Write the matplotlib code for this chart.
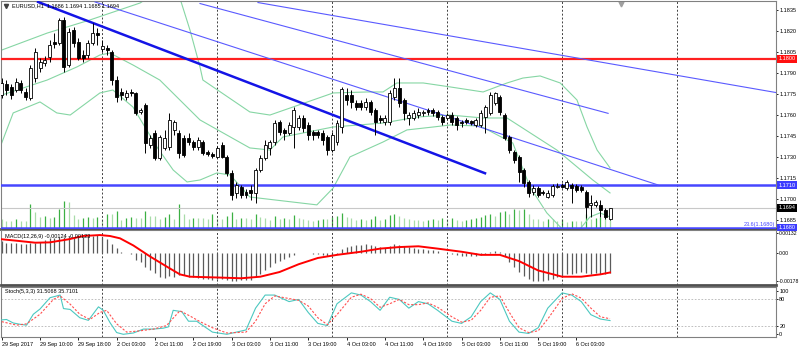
import matplotlib
matplotlib.use("Agg")
import matplotlib.pyplot as plt
import numpy as np

plt.rcParams['font.family'] = ['Liberation Sans', 'DejaVu Sans']

# EURUSD H1, bars from 29 Sep 2017 02:00 to 6 Oct 2017 10:00
opens = [1.17742, 1.17821, 1.17800, 1.17778, 1.17828, 1.17764, 1.17721, 1.17863, 1.17935, 1.17970,
         1.18013, 1.18119, 1.18112, 1.18276, 1.17956, 1.18205, 1.18119, 1.18027, 1.18027, 1.18112,
         1.18183, 1.18070, 1.18077, 1.18048, 1.17849, 1.17764, 1.17728, 1.17764, 1.17757, 1.17622,
         1.17671, 1.17387, 1.17472, 1.17295, 1.17366, 1.17373, 1.17494, 1.17472, 1.17436, 1.17436,
         1.17408, 1.17373, 1.17408, 1.17337, 1.17323, 1.17302, 1.17387, 1.17302, 1.17188, 1.17046,
         1.17088, 1.17053, 1.17067, 1.17046, 1.17209, 1.17295, 1.17366, 1.17408, 1.17551, 1.17494,
         1.17472, 1.17515, 1.17515, 1.17579, 1.17529, 1.17479, 1.17479, 1.17472, 1.17444, 1.17351,
         1.17408, 1.17515, 1.17742, 1.17742, 1.17686, 1.17686, 1.17657, 1.17693, 1.17636, 1.17579,
         1.17551, 1.17551, 1.17728, 1.17792, 1.17707, 1.17579, 1.17579, 1.17600, 1.17615, 1.17636,
         1.17636, 1.17622, 1.17586, 1.17579, 1.17600, 1.17579, 1.17551, 1.17565, 1.17558, 1.17529,
         1.17529, 1.17586, 1.17615, 1.17686, 1.17728, 1.17600, 1.17444, 1.17337, 1.17302, 1.17209,
         1.17124, 1.17053, 1.17081, 1.17053, 1.17017, 1.17032, 1.17088, 1.17103, 1.17081, 1.17103,
         1.17096, 1.17088, 1.17053, 1.16961, 1.16961, 1.16961, 1.16925, 1.16860]
highs = [1.17863, 1.17849, 1.17821, 1.17863, 1.17849, 1.17792, 1.17956, 1.18077, 1.18006, 1.18020,
         1.18134, 1.18183, 1.18290, 1.18297, 1.18219, 1.18226, 1.18148, 1.18062, 1.18134, 1.18254,
         1.18219, 1.18134, 1.18098, 1.18062, 1.17878, 1.17792, 1.17778, 1.17785, 1.17764, 1.17650,
         1.17686, 1.17458, 1.17494, 1.17458, 1.17494, 1.17615, 1.17565, 1.17494, 1.17458, 1.17472,
         1.17422, 1.17444, 1.17422, 1.17351, 1.17337, 1.17380, 1.17408, 1.17316, 1.17209, 1.17124,
         1.17103, 1.17074, 1.17103, 1.17224, 1.17316, 1.17422, 1.17422, 1.17565, 1.17565, 1.17508,
         1.17551, 1.17657, 1.17600, 1.17600, 1.17551, 1.17494, 1.17494, 1.17494, 1.17458, 1.17479,
         1.17565, 1.17800, 1.17792, 1.17778, 1.17707, 1.17707, 1.17721, 1.17707, 1.17650, 1.17600,
         1.17600, 1.17778, 1.17863, 1.17863, 1.17721, 1.17622, 1.17636, 1.17650, 1.17636, 1.17650,
         1.17650, 1.17636, 1.17600, 1.17615, 1.17622, 1.17593, 1.17565, 1.17579, 1.17565, 1.17579,
         1.17636, 1.17671, 1.17764, 1.17764, 1.17742, 1.17615, 1.17458, 1.17351, 1.17316, 1.17224,
         1.17138, 1.17103, 1.17096, 1.17067, 1.17067, 1.17110, 1.17117, 1.17117, 1.17138, 1.17117,
         1.17110, 1.17103, 1.17067, 1.17032, 1.16996, 1.16996, 1.16939, 1.16940]
lows = [1.17721, 1.17742, 1.17714, 1.17764, 1.17757, 1.17707, 1.17707, 1.17835, 1.17906, 1.17949,
        1.17977, 1.18077, 1.18098, 1.17906, 1.17942, 1.18084, 1.17991, 1.17977, 1.18006, 1.18098,
        1.18098, 1.18048, 1.18027, 1.17814, 1.17693, 1.17707, 1.17707, 1.17735, 1.17600, 1.17607,
        1.17330, 1.17366, 1.17281, 1.17281, 1.17351, 1.17351, 1.17458, 1.17295, 1.17302, 1.17387,
        1.17351, 1.17351, 1.17316, 1.17309, 1.17295, 1.17295, 1.17295, 1.17167, 1.16996, 1.17010,
        1.17010, 1.17010, 1.16996, 1.16975, 1.17195, 1.17281, 1.17316, 1.17387, 1.17458, 1.17422,
        1.17458, 1.17366, 1.17494, 1.17479, 1.17422, 1.17422, 1.17436, 1.17387, 1.17316, 1.17337,
        1.17387, 1.17472, 1.17671, 1.17650, 1.17636, 1.17636, 1.17636, 1.17600, 1.17458, 1.17543,
        1.17529, 1.17529, 1.17707, 1.17657, 1.17565, 1.17529, 1.17565, 1.17579, 1.17593, 1.17600,
        1.17593, 1.17565, 1.17529, 1.17565, 1.17529, 1.17494, 1.17515, 1.17536, 1.17529, 1.17515,
        1.17515, 1.17472, 1.17600, 1.17671, 1.17600, 1.17422, 1.17330, 1.17259, 1.17124, 1.17088,
        1.17017, 1.17032, 1.17017, 1.17032, 1.17010, 1.17017, 1.17081, 1.17081, 1.17067, 1.16975,
        1.17053, 1.17053, 1.16868, 1.16875, 1.16946, 1.16875, 1.16861, 1.16850]
closes = [1.17828, 1.17778, 1.17742, 1.17835, 1.17778, 1.17728, 1.17935, 1.18048, 1.17977, 1.17991,
          1.18098, 1.18105, 1.18276, 1.17942, 1.18190, 1.18112, 1.18006, 1.18006, 1.18112, 1.18183,
          1.18169, 1.18091, 1.18062, 1.17849, 1.17728, 1.17742, 1.17757, 1.17757, 1.17615, 1.17636,
          1.17401, 1.17436, 1.17295, 1.17444, 1.17436, 1.17565, 1.17551, 1.17330, 1.17316, 1.17408,
          1.17373, 1.17422, 1.17330, 1.17323, 1.17309, 1.17366, 1.17302, 1.17188, 1.17032, 1.17103,
          1.17032, 1.17032, 1.17046, 1.17209, 1.17295, 1.17387, 1.17408, 1.17543, 1.17479, 1.17472,
          1.17529, 1.17636, 1.17579, 1.17508, 1.17458, 1.17458, 1.17458, 1.17422, 1.17351, 1.17458,
          1.17543, 1.17785, 1.17707, 1.17693, 1.17657, 1.17657, 1.17693, 1.17622, 1.17551, 1.17565,
          1.17579, 1.17757, 1.17792, 1.17686, 1.17615, 1.17600, 1.17615, 1.17622, 1.17622, 1.17622,
          1.17615, 1.17586, 1.17551, 1.17600, 1.17551, 1.17529, 1.17543, 1.17551, 1.17543, 1.17565,
          1.17615, 1.17657, 1.17742, 1.17757, 1.17622, 1.17436, 1.17351, 1.17281, 1.17195, 1.17117,
          1.17046, 1.17081, 1.17032, 1.17046, 1.17046, 1.17096, 1.17096, 1.17088, 1.17124, 1.17081,
          1.17067, 1.17067, 1.16946, 1.16975, 1.16982, 1.16925, 1.16875, 1.16940]
volumes = [1000, 800, 800, 1000, 800, 800, 2500, 1700, 1200, 1300,
           1100, 1200, 2000, 2800, 2700, 1400, 1000, 1100, 1200, 1100,
           1200, 1000, 1500, 1500, 1800, 900, 1100, 1200, 1100, 1100,
           1800, 1300, 1300, 1000, 1200, 1500, 1000, 2500, 1500, 1000,
           1100, 1100, 1100, 1000, 1500, 1100, 1000, 1300, 1700, 1000,
           1100, 1100, 1000, 1500, 1200, 1100, 900, 1300, 1000, 1100,
           1000, 1400, 1100, 1000, 900, 800, 900, 1000, 1000, 1200,
           1300, 1600, 1200, 1100, 900, 1000, 900, 1000, 1300, 900,
           1000, 1400, 1500, 1300, 1100, 1000, 900, 900, 800, 900,
           1000, 900, 1100, 1000, 1100, 900, 800, 900, 1000, 1100,
           1200, 1400, 1500, 1300, 1700, 1800, 1500, 2000, 1900, 2000,
           1500, 1000, 1000, 800, 1000, 1000, 800, 1000, 700, 800,
           800, 800, 1500, 1000, 1100, 1200, 1200, 1000]

# Bollinger bands, read at sample bars
bb_up_x = [0, 9.5, 18.4, 28.9, 33, 37.2, 39.3, 41.4, 42, 51.8, 56, 60.8, 69.2, 76.3, 79.6, 82.5,
           88, 93.6, 100.5, 105.5, 108.8, 112.4, 116.6, 120.1, 122.2, 124.3, 127]
bb_up = [1.18062, 1.18183, 1.18276, 1.18397, 1.18489, 1.18432, 1.18205, 1.17942, 1.17849, 1.17622,
         1.17600, 1.17657, 1.17757, 1.17764, 1.17764, 1.17828, 1.17828, 1.17800, 1.17764, 1.17828,
         1.17863, 1.17878, 1.17828, 1.17707, 1.17515, 1.17351, 1.17224]
bb_mid_x = [0, 9.5, 15.7, 20.5, 22.6, 27.4, 33, 41.4, 51.8, 56, 58.7, 69.2, 79.6, 86.7, 93.6,
            100.5, 105.5, 115.9, 123.4, 127]
bb_mid = [1.17742, 1.17849, 1.17942, 1.18027, 1.18041, 1.17956, 1.17849, 1.17565, 1.17366, 1.17351,
          1.17444, 1.17515, 1.17543, 1.17586, 1.17600, 1.17579, 1.17579, 1.17351, 1.17138, 1.17046]
bb_lo_x = [0, 2.4, 8, 11.5, 14.3, 20.5, 23.2, 27.4, 32.4, 35.8, 38.7, 41.4, 44.9, 47.7, 51.8, 65.8,
           69.2, 72.7, 79.6, 84.6, 90.1, 93.6, 99.9, 106.7, 110.3, 113.8, 117.2, 119.7, 122.8, 124.9, 127]
bb_lo = [1.17401, 1.17615, 1.17693, 1.17615, 1.17600, 1.17757, 1.17778, 1.17657, 1.17373, 1.17209,
         1.17124, 1.17138, 1.17188, 1.17174, 1.17017, 1.16961, 1.17081, 1.17302, 1.17408, 1.17494,
         1.17515, 1.17529, 1.17522, 1.17401, 1.17088, 1.16904, 1.16783, 1.16747, 1.16875, 1.16904, 1.16875]

# MACD(12,26,9): main as histogram, signal as line
macd_main = [0.00081, 0.00064, 0.00064, 0.00064, 0.00062, 0.00060, 0.00064, 0.00068, 0.00074, 0.00085,
             0.00096, 0.00096, 0.00103, 0.00106, 0.00111, 0.00106, 0.00106, 0.00106, 0.00111, 0.00111,
             0.00117, 0.00105, 0.00092, 0.00060, 0.00032, 0.00006, 0.00000, -0.00006, -0.00043, -0.00054,
             -0.00086, -0.00107, -0.00128, -0.00150, -0.00160, -0.00146, -0.00154, -0.00139, -0.00139, -0.00150,
             -0.00154, -0.00160, -0.00162, -0.00165, -0.00168, -0.00165, -0.00166, -0.00170, -0.00178, -0.00175,
             -0.00174, -0.00172, -0.00170, -0.00155, -0.00132, -0.00108, -0.00088, -0.00062, -0.00048, -0.00038,
             -0.00026, -0.00008, 0.00002, 0.00004, 0.00000, -0.00004, -0.00006, -0.00010, -0.00016, -0.00012,
             -0.00002, 0.00026, 0.00040, 0.00050, 0.00054, 0.00056, 0.00058, 0.00054, 0.00044, 0.00038,
             0.00034, 0.00046, 0.00058, 0.00056, 0.00048, 0.00040, 0.00034, 0.00030, 0.00026, 0.00022,
             0.00018, 0.00012, 0.00004, 0.00000, -0.00006, -0.00012, -0.00016, -0.00018, -0.00020, -0.00020,
             -0.00014, -0.00006, 0.00008, 0.00016, 0.00010, -0.00020, -0.00055, -0.00088, -0.00120, -0.00145,
             -0.00165, -0.00175, -0.00178, -0.00176, -0.00172, -0.00162, -0.00152, -0.00145, -0.00134, -0.00130,
             -0.00126, -0.00122, -0.00128, -0.00130, -0.00128, -0.00130, -0.00134, -0.00124]
macd_sig_x = [0, 3, 7, 10, 14, 17, 20.5, 22.6, 24.7, 27.5, 31, 34.5, 37.2, 39.3, 41.4, 45, 50, 54, 58,
              62, 66, 70, 75, 79, 83, 87, 91, 96, 100, 104, 108, 112, 117, 121, 125, 127]
macd_sig = [0.00090, 0.00081, 0.00068, 0.00070, 0.00090, 0.00111, 0.00117, 0.00111, 0.00096, 0.00050,
            -0.00021, -0.00086, -0.00135, -0.00150, -0.00152, -0.00155, -0.00160, -0.00150, -0.00120,
            -0.00070, -0.00030, -0.00010, 0.00010, 0.00030, 0.00040, 0.00045, 0.00030, 0.00010, -0.00010,
            -0.00010, -0.00050, -0.00110, -0.00150, -0.00150, -0.00135, -0.00123]

# Stochastic(5,3,3)
st_k_x = [0, 1, 2.4, 3.8, 5.2, 6.6, 8, 10.1, 12.2, 12.9, 14.3, 16.3, 18.1, 20.2, 21.2, 22.6, 24, 25.4,
          27.5, 29.6, 31.7, 33.7, 34.8, 35.8, 37.6, 39, 40.7, 44, 47, 51, 53, 55, 57, 60, 62, 64, 66, 68,
          70, 73, 75, 77, 79, 81, 83, 85, 87, 89, 91, 94, 96, 98, 100, 102, 104, 106, 108, 110, 112, 114,
          117, 119, 121, 123, 125, 127]
st_k = [33, 34, 26, 23, 21, 46, 58, 84, 90, 59, 57, 38, 32, 63, 55, 27, 4, 0, 3, 12, 12, 14, 17, 55, 52,
        30, 30, 5, 0, 10, 60, 90, 90, 75, 80, 50, 25, 20, 70, 95, 90, 75, 55, 85, 80, 60, 75, 70, 55, 30,
        25, 40, 75, 95, 80, 30, 5, 2, 15, 60, 95, 90, 75, 45, 35, 31.5]
st_d_x = [0, 3.1, 5.2, 8, 10.8, 12.2, 14.3, 16.3, 18.4, 20.5, 21.9, 24, 26.1, 28.9, 31.7, 34.4, 37.2,
          39.3, 41.4, 44, 47, 51, 53, 55, 57, 60, 62, 64, 66, 68, 70, 73, 75, 77, 79, 81, 83, 85, 87, 89,
          91, 94, 96, 98, 100, 102, 104, 106, 108, 110, 112, 114, 117, 119, 121, 123, 125, 127]
st_d = [29, 21, 24, 46, 80, 88, 69, 46, 34, 50, 55, 24, 5, 8, 12, 20, 54, 42, 29, 15, 3, 5, 30, 70, 88,
        82, 78, 65, 38, 22, 45, 85, 92, 82, 62, 70, 80, 68, 68, 72, 62, 40, 28, 32, 55, 85, 88, 50, 15, 4,
        8, 35, 82, 93, 83, 60, 40, 35.7]

day_starts = [21, 45, 69, 93, 117, 141]
label_bars = list(range(0, 121, 8))
labels = ['29 Sep 2017', '29 Sep 10:00', '29 Sep 18:00', '2 Oct 03:00', '2 Oct 11:00', '2 Oct 19:00',
          '3 Oct 03:00', '3 Oct 11:00', '3 Oct 19:00', '4 Oct 03:00', '4 Oct 11:00', '4 Oct 19:00',
          '5 Oct 03:00', '5 Oct 11:00', '5 Oct 19:00', '6 Oct 03:00']
price_ticks = [1.1835, 1.1820, 1.1805, 1.1790, 1.1775, 1.1760, 1.1745, 1.1730, 1.1715, 1.1700, 1.1685]

FS = 4.0
W, H = 800, 351
fig = plt.figure(figsize=(8, 3.51), dpi=100)


def add_panel(top, bottom):
    return fig.add_axes([1 / W, 1 - bottom / H, 775 / W, (bottom - top) / H])


ax_v = add_panel(1, 228.5)
ax = add_panel(1, 228.5)
ax_m = add_panel(230, 285)
ax_s = add_panel(287, 337)

xlim = (-0.146, 161.65)
idx = np.arange(len(closes))

for a in (ax_v, ax, ax_m, ax_s):
    a.set_xlim(*xlim)
    for s in a.spines.values():
        s.set_color('#808080')
        s.set_linewidth(0.8)
    a.tick_params(axis='x', bottom=False, labelbottom=False)
    a.tick_params(axis='y', left=False, labelleft=False, right=True, labelright=True,
                  direction='out', length=1.5, width=0.6, pad=0.8, labelsize=FS, colors='black')
    a.yaxis.set_ticks_position('right')
for a in (ax, ax_m):
    a.spines['bottom'].set_color('#505050')
    a.spines['bottom'].set_linewidth(2)

# volumes under the candles
ax_v.set_ylim(0, 22850)
ax_v.axis('off')
vcol = ['#3cb043' if i > 0 and volumes[i] > volumes[i - 1] else '#a8dca8' for i in idx]
ax_v.vlines(idx, 0, volumes, colors=vcol, lw=0.9)
ax.patch.set_visible(False)

# main chart
ax.set_ylim(1.16793, 1.18411)
ax.set_yticks(price_ticks)
ax.set_yticklabels([f'{p:.4f}' for p in price_ticks])

for d in day_starts:
    for a in (ax, ax_m, ax_s):
        a.axvline(d, color='#404040', lw=0.7, ls=(0, (2, 2)), zorder=1)

ax.plot(bb_up_x, bb_up, color='#86d6a4', lw=0.8, zorder=2)
ax.plot(bb_mid_x, bb_mid, color='#86d6a4', lw=0.8, zorder=2)
ax.plot(bb_lo_x, bb_lo, color='#86d6a4', lw=0.8, zorder=2)

ax.axhline(1.1800, color='#ff2020', lw=1.6, zorder=3)
ax.axhline(1.1710, color='#4646ff', lw=1.8, zorder=3)
ax.axhline(1.1694, color='#c8c8c8', lw=0.8, zorder=2)
ax.axhline(1.1680, color='#4646ff', lw=1.8, zorder=3)

# trend lines
ax.plot([7.6, 100.9], [1.18404, 1.17186], color='#1414e6', lw=1.8, zorder=3)
ax.plot([53.5, 161.65], [1.18400, 1.17760], color='#5a5aff', lw=0.8, zorder=3)
ax.plot([41.4, 126.6], [1.18393, 1.17612], color='#5a5aff', lw=0.8, zorder=3)
ax.plot([19.5, 137], [1.18404, 1.17103], color='#5a5aff', lw=0.8, zorder=3)

# candles
up = np.array(closes) >= np.array(opens)
ax.vlines(idx, lows, highs, color='black', lw=0.7, zorder=4)
bottoms = np.minimum(opens, closes)
heights = np.maximum(np.abs(np.array(closes) - np.array(opens)), 0.000015)
ax.bar(idx, heights, bottom=bottoms, width=0.62, color=np.where(up, 'white', 'black'),
       edgecolor='black', lw=0.6, zorder=5)

ax.text(0.999, 1.1680 + 0.00004, '23.6(1.1680)', transform=ax.get_yaxis_transform(),
        ha='right', va='bottom', fontsize=FS, color='#4646ff', zorder=6)
ax.text(11 / 775, 1 - 5 / 227.5, 'EURUSD,H1  1.1686 1.1694 1.1685 1.1694', transform=ax.transAxes,
        ha='left', va='center', fontsize=FS, color='black', zorder=10)
ax.plot([4.5 / 775], [1 - 5 / 227.5], marker='v', ms=3, color='#404040', transform=ax.transAxes,
        clip_on=False, zorder=10)
ax.plot([620 / 775], [1 - 2.5 / 227.5], marker='v', ms=3.5, color='#a0a0a0', transform=ax.transAxes,
        clip_on=False)


def price_box(a, y, text, bg):
    a.text(1.003, y, text, transform=a.get_yaxis_transform(), ha='left', va='center',
           fontsize=FS, color='white', clip_on=False, zorder=10,
           bbox=dict(boxstyle='square,pad=0.25', facecolor=bg, edgecolor='none'))


price_box(ax, 1.1800, '1.1800', '#ff1010')
price_box(ax, 1.1710, '1.1710', '#3c3cff')
price_box(ax, 1.1694, '1.1694', 'black')
price_box(ax, 1.1680, '1.1680', '#3c3cff')

# MACD panel
ax_m.set_ylim(-0.002032, 0.001494)
ax_m.set_yticks([0.00132, 0.0, -0.00178])
ax_m.set_yticklabels(['0.00132', '0.00', '-0.00178'])
ax_m.tick_params(axis='y', labelsize=3.7)
ax_m.vlines(idx, 0, macd_main, colors='#5a5a5a', lw=0.9, zorder=2)
ax_m.plot(macd_sig_x, macd_sig, color='#ff0000', lw=1.4, zorder=3)
ax_m.text(4 / 775, 0.88, 'MACD(12,26,9) -0.00124 -0.00123', transform=ax_m.transAxes,
          ha='left', va='center', fontsize=FS, zorder=10)

# Stochastic panel
ax_s.set_ylim(-6.2, 108.5)
ax_s.set_yticks([100, 80, 20, 0])
ax_s.set_yticklabels(['100', '80', '20', '0'])
for lv in (20, 80):
    ax_s.axhline(lv, color='#b4b4b4', lw=0.6, ls=(0, (2, 2)), zorder=1)
ax_s.plot(st_k_x, st_k, color='#4cc8c0', lw=0.8, zorder=3)
ax_s.plot(st_d_x, st_d, color='#ff5050', lw=0.8, ls=(0, (2, 1.5)), zorder=3)
ax_s.text(4 / 775, 0.9, 'Stoch(5,3,3) 31.5068 35.7101', transform=ax_s.transAxes,
          ha='left', va='center', fontsize=FS, zorder=10)

ax_s.tick_params(axis='x', bottom=True, labelbottom=True, direction='out', length=2, width=0.6,
                 pad=1.5, labelsize=FS, colors='black')
ax_s.set_xticks(label_bars)
ax_s.set_xticklabels(labels, ha='left')

fig.savefig('out.png', dpi=100)
